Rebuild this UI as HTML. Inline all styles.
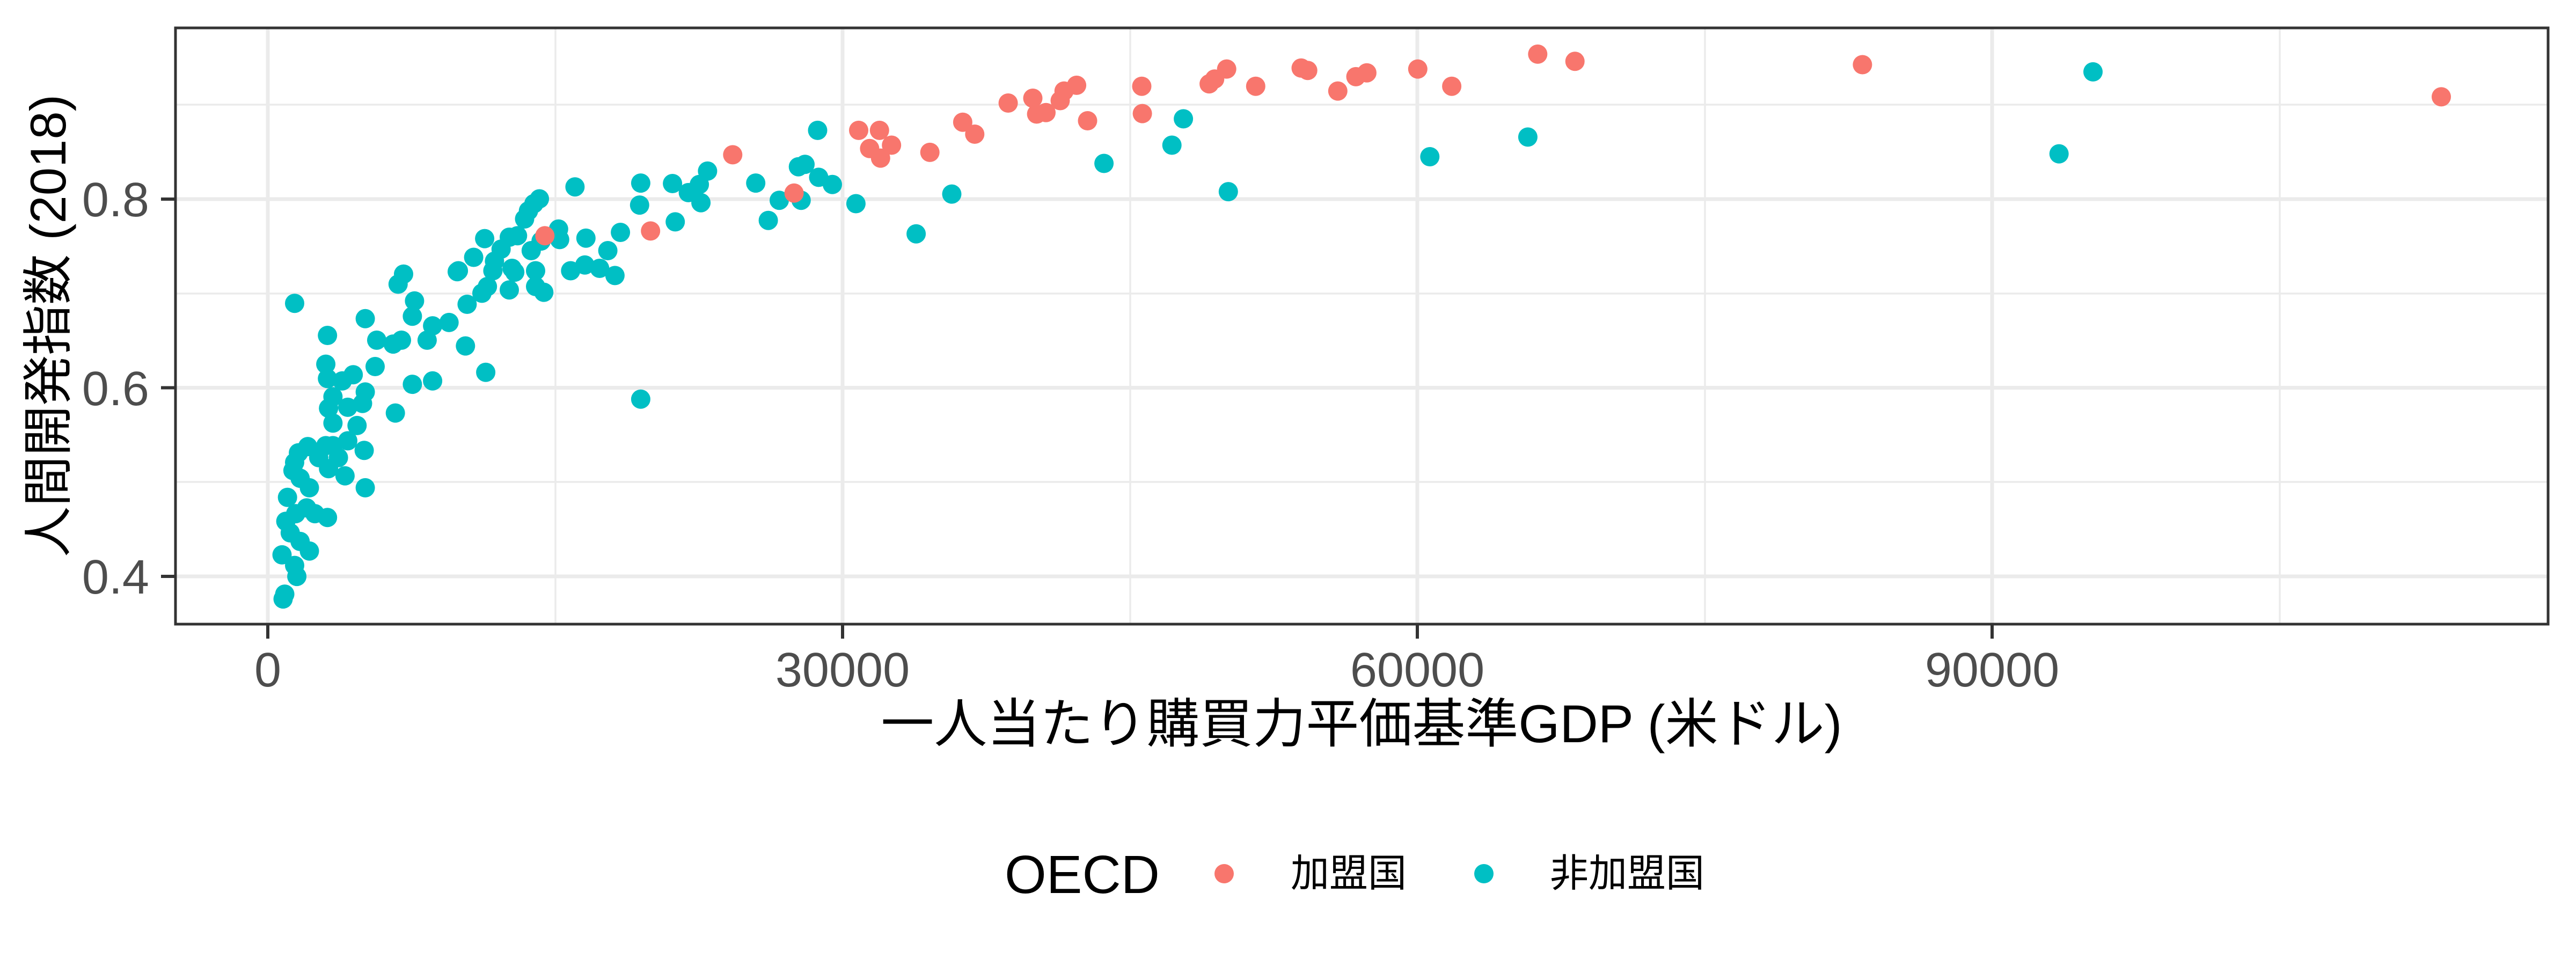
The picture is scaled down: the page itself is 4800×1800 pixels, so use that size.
<!DOCTYPE html>
<html><head><meta charset="utf-8"><style>
html,body{margin:0;padding:0;background:#fff;}
svg{display:block;}
text{font-family:"Liberation Sans","Noto Sans CJK JP",sans-serif;}
</style></head><body>
<svg id="s" width="4800" height="1800" viewBox="0 0 4800 1800" xmlns="http://www.w3.org/2000/svg">
<rect width="4800" height="1800" fill="#fff"/>
<g stroke="#EBEBEB">
<line x1="327" x2="4748" y1="898" y2="898" stroke-width="3.5"/>
<line x1="327" x2="4748" y1="547" y2="547" stroke-width="3.5"/>
<line x1="327" x2="4748" y1="195" y2="195" stroke-width="3.5"/>
<line x1="1035" x2="1035" y1="52" y2="1163" stroke-width="3.5"/>
<line x1="2106" x2="2106" y1="52" y2="1163" stroke-width="3.5"/>
<line x1="3177" x2="3177" y1="52" y2="1163" stroke-width="3.5"/>
<line x1="4248" x2="4248" y1="52" y2="1163" stroke-width="3.5"/>
<line x1="327" x2="4748" y1="1074" y2="1074" stroke-width="7"/>
<line x1="327" x2="4748" y1="722.5" y2="722.5" stroke-width="7"/>
<line x1="327" x2="4748" y1="371" y2="371" stroke-width="7"/>
<line x1="499" x2="499" y1="52" y2="1163" stroke-width="7"/>
<line x1="1570" x2="1570" y1="52" y2="1163" stroke-width="7"/>
<line x1="2641" x2="2641" y1="52" y2="1163" stroke-width="7"/>
<line x1="3712" x2="3712" y1="52" y2="1163" stroke-width="7"/>
</g>
<g id="pts"></g>
<rect x="327" y="52" width="4421" height="1111" fill="none" stroke="#333" stroke-width="5"/>
<g stroke="#333" stroke-width="6">
<line x1="300" x2="327" y1="1074" y2="1074"/>
<line x1="300" x2="327" y1="722.5" y2="722.5"/>
<line x1="300" x2="327" y1="371" y2="371"/>
<line x1="499" x2="499" y1="1163" y2="1190"/>
<line x1="1570" x2="1570" y1="1163" y2="1190"/>
<line x1="2641" x2="2641" y1="1163" y2="1190"/>
<line x1="3712" x2="3712" y1="1163" y2="1190"/>
</g>
<g fill="#4D4D4D" font-size="90">
<text x="278" y="1106" text-anchor="end">0.4</text>
<text x="278" y="755" text-anchor="end">0.6</text>
<text x="278" y="403" text-anchor="end">0.8</text>
<text x="499" y="1279" text-anchor="middle">0</text>
<text x="1570" y="1279" text-anchor="middle">30000</text>
<text x="2641" y="1279" text-anchor="middle">60000</text>
<text x="3712" y="1279" text-anchor="middle">90000</text>
</g>
<text x="2537" y="1383" font-size="99" text-anchor="middle" fill="#000">一人当たり購買力平価基準GDP (米ドル)</text>
<text transform="translate(122,607) rotate(-90)" font-size="94" text-anchor="middle" fill="#000">人間開発指数 (2018)</text>
<text x="1872" y="1664" font-size="100" fill="#000">OECD</text>
<circle cx="2281" cy="1628" r="18" fill="#F8766D"/>
<text x="2405" y="1652" font-size="72" fill="#000">加盟国</text>
<circle cx="2765" cy="1628" r="18" fill="#00BFC4"/>
<text x="2888" y="1652" font-size="72" fill="#000">非加盟国</text>
</svg>
<script>
var k=1.0204, ky=1/1.12;
var teal0=[[538,633],[598,700],[595,760],[598,790],[625,795],[645,782],[667,818],[662,842],[635,850],[608,828],[600,852],[608,883],[652,888],[635,920],[665,940],[667,1018],[630,993],[600,978],[595,930],[562,932],[545,945],[538,965],[535,982],[548,998],[565,1018],[525,1038],[522,1088],[540,1072],[560,1060],[575,1072],[598,1080],[530,1112],[548,1130],[565,1150],[515,1158],[538,1180],[542,1203],[520,1240],[517,1250],[608,930],[618,955],[582,955],[667,665],[688,710],[718,718],[733,710],[685,765],[722,862],[753,802],[790,795],[727,593],[737,572],[757,628],[753,660],[780,710],[790,680],[820,673],[850,722],[853,635],[880,612],[890,598],[887,777],[930,605],[837,565],[835,567],[865,537],[885,498],[903,545],[900,565],[915,520],[930,495],[945,492],[935,560],[940,568],[970,523],[978,565],[978,598],[993,610],[958,457],[965,440],[975,425],[985,415],[988,503],[1020,478],[1022,500],[1042,565],[1068,553],[1070,497],[1095,560],[1110,523],[1123,575],[1133,485],[1050,390],[1170,382],[1168,428],[1170,833],[1233,463],[1228,383],[1257,402],[1277,385],[1280,423],[1292,357],[1380,382],[1403,460],[1423,418],[1458,348],[1470,343],[1463,418],[1495,370],[1520,385],[1493,272],[1563,425]];
var red0=[[995,492],[1188,482],[1338,323],[1450,403],[1568,272]];
var red1=[[38,272],[20,310],[40,330],[60,303],[130,318],[190,255],[212,280],[273,215],[318,205],[325,238],[342,235],[368,210],[375,190],[398,178],[418,252],[517,180],[518,237],[640,175],[650,165],[672,144],[725,180],[808,142],[820,147],[875,190],[908,160],[928,152],[1021,144],[1083,180],[1240,113],[1308,128]];
var teal1=[[105,488],[170,405],[448,341],[572,303],[593,248],[675,400],[1043,327],[1222,286]];
var red2=[[265,135],[1322,202]], teal2=[[686,150],[624,321]];
var g=document.getElementById('pts'),h='';
function add(a,ox,c){a.forEach(function(p){h+='<circle cx="'+(ox+p[0]*k).toFixed(1)+'" cy="'+(p[1]*ky).toFixed(1)+'" r="18" fill="'+c+'"/>';});}
add(teal0,0,'#00BFC4');add(teal1,1600,'#00BFC4');add(teal2,3200,'#00BFC4');
add(red0,0,'#F8766D');add(red1,1600,'#F8766D');add(red2,3200,'#F8766D');
g.innerHTML=h;
</script>
</body></html>
